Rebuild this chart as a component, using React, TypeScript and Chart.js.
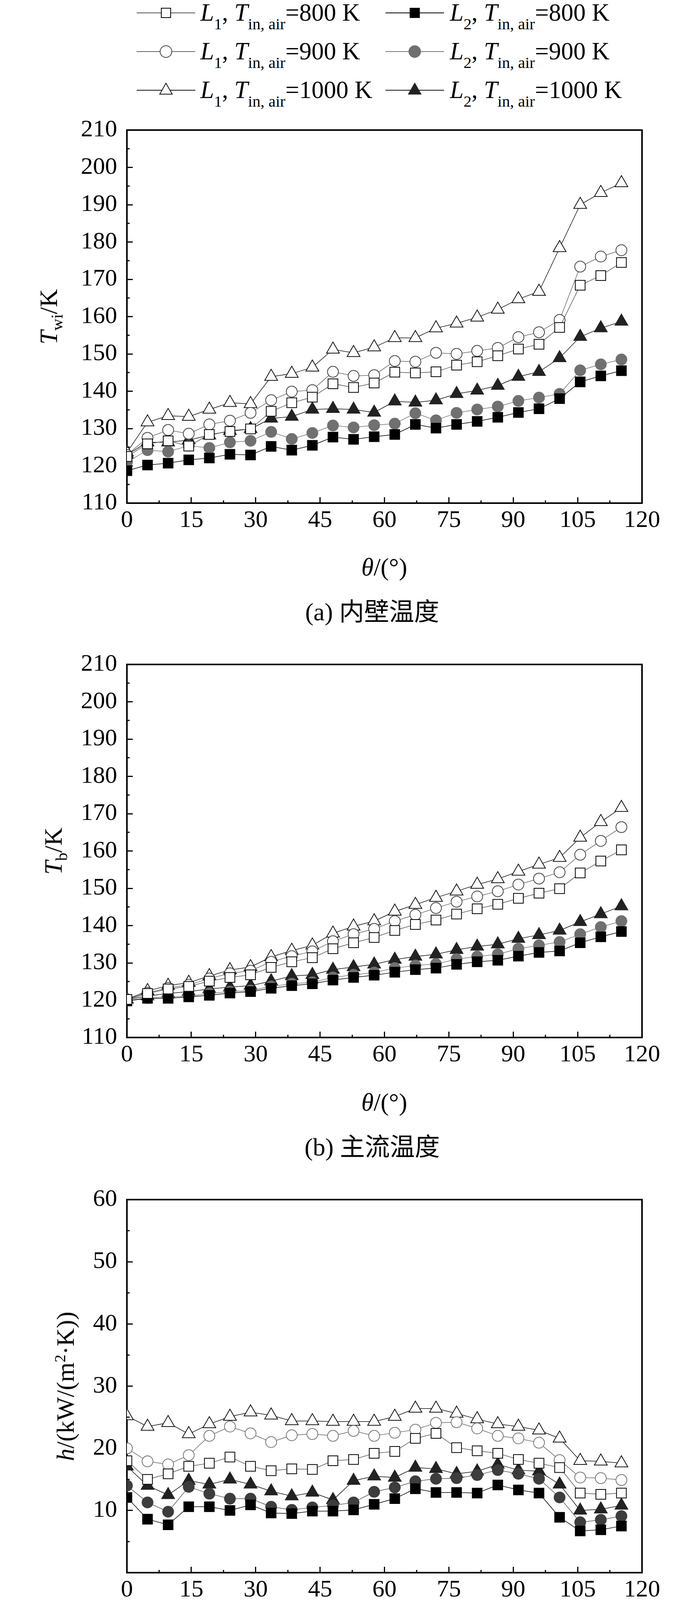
import { useEffect, useRef } from "react";
import Chart from "chart.js/auto";

// 周向角 θ/(°)
const theta = [
  0, 4.8, 9.6, 14.4, 19.2, 24, 28.8, 33.6, 38.4, 43.2, 48, 52.8, 57.6, 62.4,
  67.2, 72, 76.8, 81.6, 86.4, 91.2, 96, 100.8, 105.6, 110.4, 115.2,
];

// (a) 内壁温度 T_wi/K
const twiL1T800 = [122.5, 125.9, 126.7, 125.3, 128.4, 129.2, 129.9, 134.6, 136.9, 138.4, 142.0, 141.0, 142.2, 145.1, 144.9, 145.2, 147.0, 147.9, 149.5, 151.3, 152.6, 157.1, 168.4, 171.0, 174.5];
const twiL2T800 = [118.7, 120.2, 120.7, 121.6, 122.1, 123.1, 122.9, 125.2, 124.2, 125.5, 127.7, 127.1, 127.8, 128.4, 131.1, 130.1, 131.1, 131.9, 133.0, 134.3, 135.3, 138.0, 142.5, 144.1, 145.5];
const twiL1T900 = [122.9, 127.5, 129.6, 128.6, 131.1, 132.1, 134.2, 137.6, 139.9, 140.3, 145.2, 144.1, 144.3, 148.1, 147.9, 150.3, 150.0, 150.8, 151.6, 154.5, 155.8, 159.1, 173.4, 176.1, 177.8];
const twiL2T900 = [121.0, 124.2, 123.8, 125.4, 124.8, 126.3, 126.7, 129.1, 127.2, 128.8, 130.8, 130.3, 130.9, 131.3, 134.1, 132.2, 134.2, 135.1, 135.9, 137.4, 138.3, 139.3, 145.6, 147.2, 148.5];
const twiL1T1000 = [123.6, 131.7, 133.4, 133.2, 135.1, 136.9, 136.6, 143.9, 144.7, 146.4, 151.2, 150.3, 151.8, 154.3, 154.3, 156.9, 158.2, 159.8, 161.9, 164.7, 166.7, 178.4, 190.0, 193.2, 195.8];
const twiL2T1000 = [123.0, 126.3, 126.3, 126.9, 128.2, 129.4, 129.9, 132.7, 133.2, 135.1, 135.3, 135.1, 134.3, 137.3, 137.0, 137.6, 139.3, 140.2, 141.5, 143.9, 145.2, 148.9, 154.6, 156.9, 158.7];

// (b) 主流温度 T_b/K
const tbL1T800 = [120.2, 121.8, 123.0, 123.7, 125.1, 126.1, 126.8, 128.8, 130.3, 131.4, 133.8, 135.4, 136.8, 138.7, 140.3, 141.5, 143.1, 144.5, 145.7, 147.3, 148.7, 149.9, 154.1, 157.3, 160.3];
const tbL2T800 = [119.8, 120.5, 120.5, 120.9, 121.3, 121.9, 122.3, 123.2, 123.9, 124.4, 125.4, 126.1, 126.7, 127.5, 128.2, 128.6, 129.6, 130.3, 130.7, 131.8, 132.8, 133.2, 135.4, 137.0, 138.4];
const tbL1T900 = [120.2, 122.0, 123.3, 124.1, 125.8, 127.2, 127.9, 130.3, 131.8, 133.1, 135.8, 137.7, 139.1, 141.2, 142.9, 144.7, 146.4, 147.8, 149.2, 151.0, 152.6, 154.3, 159.0, 162.7, 166.4];
const tbL2T900 = [120.0, 120.6, 120.9, 121.1, 121.8, 122.3, 122.6, 123.7, 124.4, 124.8, 126.1, 126.8, 127.4, 128.6, 129.3, 129.7, 131.0, 131.7, 132.3, 133.8, 134.7, 135.6, 137.7, 139.6, 141.2];
const tbL1T1000 = [120.2, 122.5, 123.9, 124.7, 126.5, 128.1, 128.9, 131.6, 133.3, 134.7, 137.9, 139.8, 141.2, 143.8, 145.6, 147.5, 149.2, 151.0, 152.5, 154.5, 156.4, 158.2, 163.6, 167.8, 171.6];
const tbL2T1000 = [120.2, 121.1, 121.8, 122.3, 123.0, 123.5, 123.9, 125.1, 126.5, 126.8, 128.2, 128.9, 129.6, 130.9, 131.7, 132.3, 133.5, 134.4, 135.0, 136.5, 137.5, 138.7, 141.0, 143.1, 145.2];

// (c) 传热系数 h/(kW/(m²·K))
const hL1T800 = [18.0, 15.0, 15.9, 17.1, 17.6, 18.6, 17.1, 16.4, 16.7, 16.6, 18.0, 18.2, 19.2, 19.5, 21.6, 22.4, 20.1, 19.6, 19.2, 18.2, 17.6, 16.9, 12.8, 12.6, 12.8];
const hL2T800 = [12.1, 8.6, 7.7, 10.6, 10.6, 10.0, 10.9, 9.6, 9.5, 9.9, 9.9, 10.1, 11.0, 11.9, 13.5, 12.9, 12.9, 12.8, 14.1, 13.3, 12.8, 8.9, 6.7, 6.9, 7.5];
const hL1T900 = [20.0, 17.9, 17.4, 18.9, 22.0, 23.5, 22.4, 21.0, 22.1, 22.3, 22.0, 22.8, 22.0, 22.5, 23.0, 24.1, 24.2, 23.2, 22.0, 21.6, 20.9, 18.1, 15.3, 15.2, 14.9];
const hL2T900 = [14.0, 11.3, 9.8, 13.8, 12.7, 11.9, 11.9, 10.6, 10.1, 10.5, 10.8, 11.3, 13.0, 13.7, 14.7, 15.1, 15.2, 15.7, 16.5, 15.9, 15.1, 12.1, 8.1, 8.5, 9.1];
const hL1T1000 = [25.2, 23.5, 24.1, 22.3, 23.9, 25.1, 25.8, 25.3, 24.4, 24.4, 24.3, 24.3, 24.3, 25.1, 26.4, 26.4, 25.6, 24.7, 23.9, 23.5, 22.9, 21.6, 18.0, 17.9, 17.6];
const hL2T1000 = [17.1, 14.0, 12.5, 14.8, 14.2, 15.0, 14.2, 13.1, 12.3, 12.9, 11.7, 14.8, 15.5, 15.3, 16.9, 16.7, 15.9, 16.3, 17.4, 16.5, 16.3, 14.2, 10.0, 10.2, 10.8];

const airTemps = ["800", "900", "1000"];
const xTicksStep = 15;

type Shape = "rect" | "circle" | "triangle";
type Style = { shape: Shape; fill: string; edge: string; line: string; radius: number };

// order: L1-800, L2-800, L1-900, L2-900, L1-1000, L2-1000
const baseStyles: Style[] = [
  { shape: "rect", fill: "#ffffff", edge: "#000000", line: "#555555", radius: 17.7 },
  { shape: "rect", fill: "#000000", edge: "#000000", line: "#000000", radius: 17.7 },
  { shape: "circle", fill: "#ffffff", edge: "#444444", line: "#666666", radius: 14 },
  { shape: "circle", fill: "#707070", edge: "#707070", line: "#777777", radius: 14 },
  { shape: "triangle", fill: "#ffffff", edge: "#111111", line: "#111111", radius: 19 },
  { shape: "triangle", fill: "#222222", edge: "#222222", line: "#111111", radius: 19 },
];

const PLOT_LEFT = 325;
const PLOT_RIGHT = 1644;
const PLOT_H = 955;
const PAD_TOP = 80;
const X_AXIS_H = 112;
const PAGE_W = 1772;
const SERIF = "'Liberation Serif', 'Times New Roman', 'Noto Sans CJK SC', serif";

const frameAndMinor = {
  id: "frameAndMinor",
  afterDraw(chart: any) {
    const { ctx, chartArea: a } = chart;
    const xs = chart.scales.x;
    const ys = chart.scales.y;
    ctx.save();
    ctx.strokeStyle = "#000";
    ctx.lineWidth = 3;
    ctx.beginPath();
    for (let v = xs.min + xTicksStep / 2; v < xs.max; v += xTicksStep) {
      const px = xs.getPixelForValue(v);
      ctx.moveTo(px, a.bottom);
      ctx.lineTo(px, a.bottom - 7);
    }
    for (let v = ys.min + 5; v < ys.max; v += 10) {
      const py = ys.getPixelForValue(v);
      ctx.moveTo(a.left, py);
      ctx.lineTo(a.left + 7, py);
    }
    ctx.stroke();
    ctx.lineWidth = 4;
    ctx.beginPath();
    ctx.moveTo(a.left - 2, a.top);
    ctx.lineTo(a.right, a.top);
    ctx.lineTo(a.right, a.bottom + 2);
    ctx.stroke();
    ctx.restore();
  },
};

type PanelProps = {
  plotTop: number;
  series: number[][];
  yMin: number;
  yMax: number;
  hideZero?: boolean;
  styles: Style[];
};

function Panel({ plotTop, series, yMin, yMax, hideZero, styles }: PanelProps) {
  const canvasRef = useRef<HTMLCanvasElement | null>(null);
  const height = PAD_TOP + PLOT_H + X_AXIS_H;

  useEffect(() => {
    if (!canvasRef.current) {
      return;
    }
    const datasets = series.map((values, i) => {
      const s = styles[i];
      return {
        data: theta.map((t, j) => ({ x: t, y: values[j] })),
        borderColor: s.line,
        borderWidth: 1.5,
        pointStyle: s.shape,
        pointRadius: s.radius,
        pointHoverRadius: s.radius,
        pointBackgroundColor: s.fill,
        pointBorderColor: s.edge,
        pointBorderWidth: 2,
        tension: 0,
        fill: false,
      };
    });

    const tickFont = { family: SERIF, size: 62 };
    const chart = new Chart(canvasRef.current, {
      type: "line",
      data: { datasets },
      options: {
        animation: false,
        responsive: false,
        events: [],
        layout: { padding: { top: PAD_TOP, right: PAGE_W - PLOT_RIGHT, bottom: 0, left: 0 } },
        plugins: {
          legend: { display: false },
          tooltip: { enabled: false },
        },
        scales: {
          x: {
            type: "linear",
            min: 0,
            max: 120,
            z: 1,
            border: { display: true, color: "#000", width: 4 },
            grid: { drawOnChartArea: false, drawTicks: true, tickLength: -15, tickWidth: 3, tickColor: "#000" },
            ticks: { stepSize: xTicksStep, color: "#000", font: tickFont, padding: 23, maxRotation: 0 },
            afterFit: (scale: any) => {
              scale.height = X_AXIS_H;
            },
          },
          y: {
            type: "linear",
            min: yMin,
            max: yMax,
            z: 1,
            border: { display: true, color: "#000", width: 4 },
            grid: { drawOnChartArea: false, drawTicks: true, tickLength: -15, tickWidth: 3, tickColor: "#000" },
            ticks: {
              stepSize: 10,
              color: "#000",
              font: tickFont,
              padding: 40,
              callback: (v: any) => (hideZero && v === 0 ? "" : String(v)),
            },
            afterFit: (scale: any) => {
              scale.width = PLOT_LEFT;
            },
          },
        },
      },
      plugins: [frameAndMinor],
    } as any);

    return () => {
      chart.destroy();
    };
  }, []);

  return (
    <canvas
      ref={canvasRef}
      width={PAGE_W}
      height={height}
      style={{ position: "absolute", left: 0, top: plotTop - PAD_TOP, width: PAGE_W, height }}
    />
  );
}

const subStyle = { fontSize: 41, verticalAlign: "-22px" };

function Marker({ s }: { s: Style }) {
  const cx = 75;
  const cy = 20;
  let shape;
  if (s.shape === "rect") {
    shape = <rect x={cx - 12} y={cy - 12} width={24} height={24} fill={s.fill} stroke={s.edge} strokeWidth={2} />;
  } else if (s.shape === "circle") {
    shape = <circle cx={cx} cy={cy} r={15} fill={s.fill} stroke={s.edge} strokeWidth={2} />;
  } else {
    shape = (
      <polygon
        points={`${cx},${cy - 18} ${cx + 16},${cy + 10} ${cx - 16},${cy + 10}`}
        fill={s.fill}
        stroke={s.edge}
        strokeWidth={2}
      />
    );
  }
  return (
    <svg width={150} height={40} style={{ display: "block" }}>
      <line x1={0} y1={cy} x2={150} y2={cy} stroke={s.line} strokeWidth={2} />
      {shape}
    </svg>
  );
}

function Legend() {
  const rows = [33, 132, 231];
  const lineX = [350, 987];
  const textX = [513, 1152];
  const items = [];
  for (let r = 0; r < 3; r++) {
    for (let c = 0; c < 2; c++) {
      const s = baseStyles[r * 2 + c];
      items.push(
        <div key={`m${r}${c}`} style={{ position: "absolute", left: lineX[c], top: rows[r] - 20 }}>
          <Marker s={s} />
        </div>
      );
      items.push(
        <div
          key={`t${r}${c}`}
          style={{
            position: "absolute",
            left: textX[c],
            top: rows[r] - 32,
            fontFamily: SERIF,
            fontSize: 63,
            lineHeight: "63px",
            whiteSpace: "nowrap",
          }}
        >
          <i>L</i>
          <span style={subStyle}>{c + 1}</span>, <i>T</i>
          <span style={subStyle}>in, air</span>={airTemps[r]} K
        </div>
      );
    }
  }
  return <>{items}</>;
}

function Text({ x, y, rotate, children }: { x: number; y: number; rotate?: boolean; children: any }) {
  return (
    <div
      style={{
        position: "absolute",
        left: x,
        top: y,
        transform: `translate(-50%, -50%)${rotate ? " rotate(-90deg)" : ""}`,
        fontFamily: SERIF,
        fontSize: 64,
        lineHeight: 1,
        whiteSpace: "nowrap",
        color: "#000",
      }}
    >
      {children}
    </div>
  );
}

export default function App() {
  const tops = [333, 1701, 3071];
  const stylesC = baseStyles.map((s, i) =>
    i === 2 ? { ...s, edge: "#777777" } : i === 3 ? { ...s, fill: "#3d3d3d", edge: "#3d3d3d", line: "#555555" } : s
  );
  const xTitle = (
    <>
      <i>θ</i>/(°)
    </>
  );
  return (
    <div style={{ position: "absolute", left: 0, top: 0, width: PAGE_W, height: 4342, background: "#fff" }}>
      <Legend />

      <Panel
        plotTop={tops[0]}
        series={[twiL1T800, twiL2T800, twiL1T900, twiL2T900, twiL1T1000, twiL2T1000]}
        yMin={110}
        yMax={210}
        styles={baseStyles}
      />
      <Text x={130} y={tops[0] + PLOT_H / 2} rotate>
        <i>T</i>
        <span style={{ fontSize: 42, verticalAlign: "-14px" }}>wi</span>/K
      </Text>
      <Text x={984} y={1452}>{xTitle}</Text>
      <Text x={953} y={1567}>(a) 内壁温度</Text>

      <Panel
        plotTop={tops[1]}
        series={[tbL1T800, tbL2T800, tbL1T900, tbL2T900, tbL1T1000, tbL2T1000]}
        yMin={110}
        yMax={210}
        styles={baseStyles}
      />
      <Text x={142} y={tops[1] + PLOT_H / 2} rotate>
        <i>T</i>
        <span style={{ fontSize: 42, verticalAlign: "-14px" }}>b</span>/K
      </Text>
      <Text x={984} y={2822}>{xTitle}</Text>
      <Text x={953} y={2937}>(b) 主流温度</Text>

      <Panel
        plotTop={tops[2]}
        series={[hL1T800, hL2T800, hL1T900, hL2T900, hL1T1000, hL2T1000]}
        yMin={0}
        yMax={60}
        hideZero
        styles={stylesC}
      />
      <Text x={167} y={tops[2] + PLOT_H / 2} rotate>
        <i>h</i>/(kW/(m<span style={{ fontSize: 40, verticalAlign: "22px" }}>2</span>·K))
      </Text>
      <Text x={984} y={4190}>{xTitle}</Text>
      <Text x={953} y={4303}>(c) 传热系数</Text>
    </div>
  );
}
